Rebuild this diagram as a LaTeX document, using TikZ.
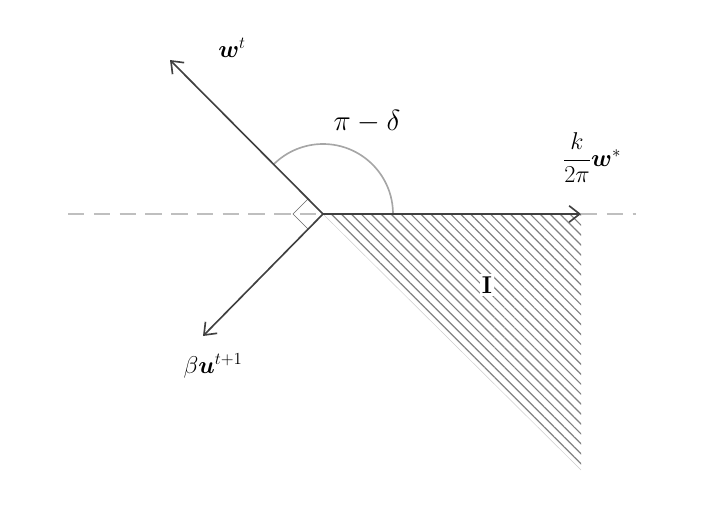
\documentclass[tikz,border=0pt]{standalone}
\usepackage{amsmath}
\usepackage{amssymb}
\usepackage{bm}
\usetikzlibrary{patterns.meta,calc,arrows.meta}

\begin{document}
\begin{tikzpicture}[x=0.03cm,y=-0.03cm,line width=1.4pt,vec/.style={-{Straight Barb[length=9pt,width=14pt]},draw=black!75},guide/.style={draw=black!25,dashed,dash pattern=on 14pt off 8pt}]
	\useasboundingbox (0,0) rectangle (702,509);
	\coordinate (o) at (323,214);
	\coordinate (wt) at (170,60);
	\coordinate (ut) at (203,336);
	\coordinate (ws) at (581,214);
	\coordinate (c) at (581,470);
	\coordinate (dl) at (68,214);
	\coordinate (dr) at (636,214);
	\fill[pattern={Lines[angle=-45,distance=6pt,line width=1pt]},pattern color=black!50] (o) -- (ws) -- (c) -- cycle;
	\draw[black!20,thin] (o) -- (c);
	\draw[guide] (dl) -- (o);
	\draw[guide] (ws) -- (dr);
	\draw[black!35] ($(o)+(70,0)$) arc[start angle=0,end angle=-135,radius=70];
	\draw[black!60,thin] (o) -- ++(-15,-15) -- ++(-15,15) -- ++(15,15);
	\draw[vec] (o) -- (wt);
	\draw[vec] (o) -- (ut);
	\draw[vec] (o) -- (ws);
	\node (lwt) at (232,48) {\huge $\bm{w}^t$};
	\node (lut) at (213,366) {\huge $\beta\bm{u}^{t+1}$};
	\node (lws) at (592,158) {\huge $\dfrac{k}{2\pi}\bm{w}^*$};
	\node (lpd) at (367,122) {\Huge $\pi-\delta$};
	\node[fill=white,inner sep=2pt] (li) at (487,285) {\huge $\mathbf{I}$};
\end{tikzpicture}
\end{document}
